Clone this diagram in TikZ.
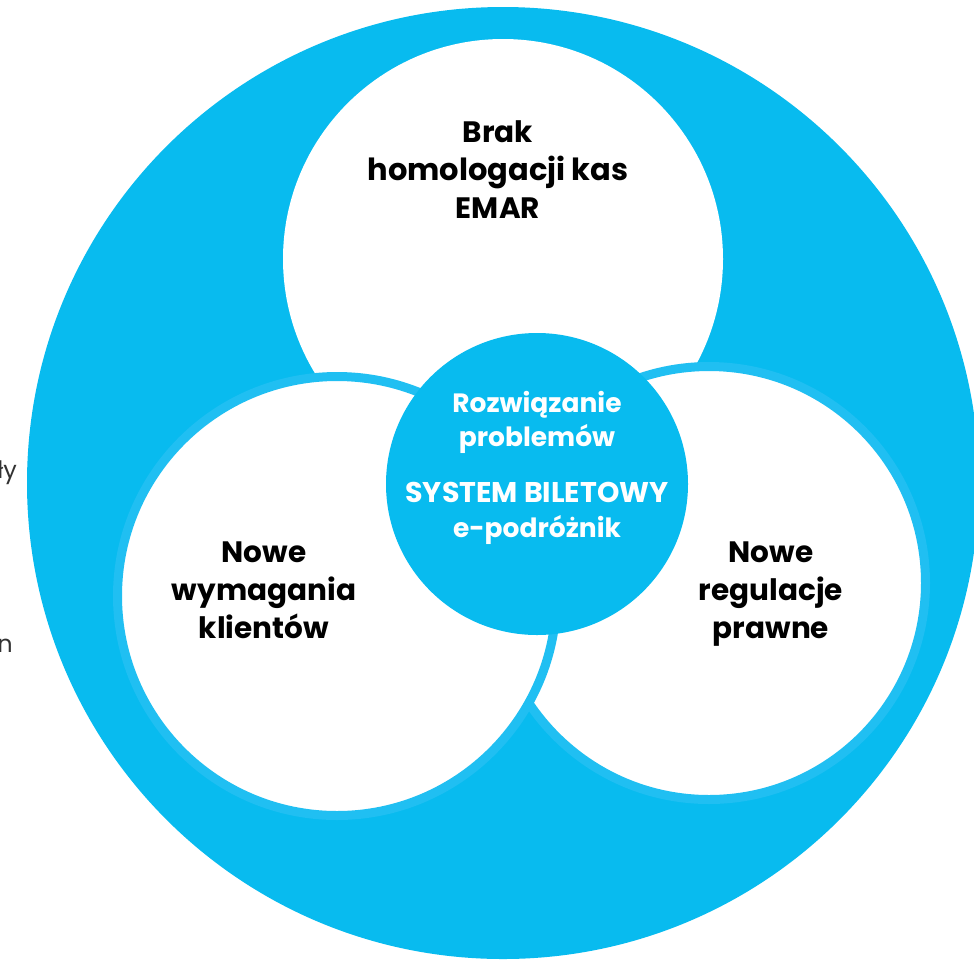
\documentclass[tikz,border=0pt]{standalone}
\usepackage{fontspec}
\setmainfont{Poppins}
\definecolor{mainblue}{RGB}{8,187,239}
\definecolor{ringblue}{RGB}{32,191,242}
\definecolor{txtgray}{RGB}{50,50,50}
\begin{document}
\begin{tikzpicture}[x=1pt,y=-1pt,
  ringcircle/.style={draw=ringblue,line width=9pt,fill=white},
  bigtext/.style={align=center,font=\fontsize{29.5}{38}\selectfont\bfseries,text=black,inner sep=0pt},
  midtext/.style={align=center,font=\fontsize{26.5}{34.5}\selectfont\bfseries,text=white,inner sep=0pt},
  fragtext/.style={font=\fontsize{24}{28}\selectfont,text=txtgray,inner sep=0pt}]
\useasboundingbox (0,0) rectangle (974,959);
\fill[white] (0,0) rectangle (974,959);
% big outer circle
\fill[mainblue] (503,483) circle[radius=476];
% top white circle
\fill[white] (503,259) circle[radius=220];
% right circle
\path[ringcircle] (709,583) circle[radius=216.5];
% left circle
\path[ringcircle] (337,596) circle[radius=219.5];
% center circle
\fill[mainblue] (537,484) circle[radius=151];
% texts
\node[bigtext,anchor=north] (top) at (498,120) {Brak\\{\fontsize{30.5}{38}\selectfont homologacji kas}\\EMAR};
\node[bigtext,anchor=north] (left) at (264,542) {Nowe\\wymagania\\klientów};
\node[bigtext,anchor=north] (right) at (771,542) {Nowe\\regulacje\\prawne};
\node[midtext,anchor=north] (mid1) at (537,391) {Rozwiązanie\\problemów};
\node[midtext,anchor=north] (mid2) at (537,482) {{\fontsize{28.5}{34.5}\selectfont SYSTEM BILETOWY}\\e-podróżnik};
\node[fragtext,anchor=base east] (frag1) at (17,478) {ły};
\node[fragtext,anchor=base east] (frag2) at (13,652) {n};
\end{tikzpicture}
\end{document}
